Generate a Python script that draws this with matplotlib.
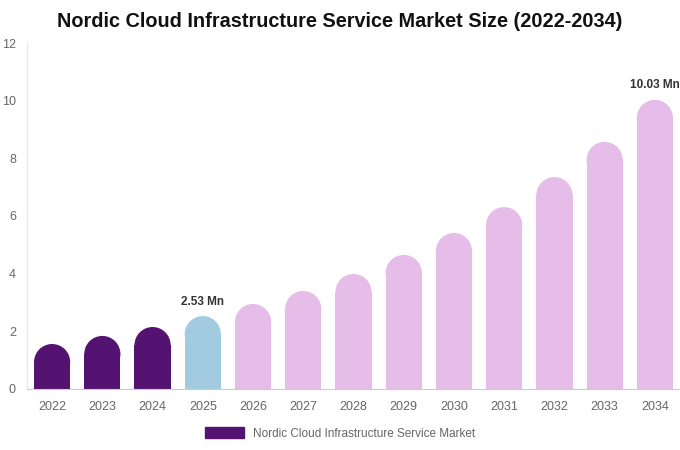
import matplotlib.pyplot as plt
from matplotlib.patches import Ellipse, Patch

years = ["2022", "2023", "2024", "2025", "2026", "2027", "2028",
         "2029", "2030", "2031", "2032", "2033", "2034"]
values = [1.56, 1.84, 2.15, 2.53, 2.95, 3.40, 3.99, 4.65, 5.41, 6.31, 7.35, 8.57, 10.03]
labels = {3: "2.53 Mn", 12: "10.03 Mn"}

DARK = "#541271"
BLUE = "#a3cbe0"
PINK = "#e6bce9"
colors = [DARK] * 3 + [BLUE] + [PINK] * 9

plt.rcParams["font.family"] = ["Liberation Sans", "DejaVu Sans"]

fig = plt.figure(figsize=(6.8, 4.5), dpi=100)
ax = fig.add_axes([0.0397, 0.1356, 0.9603, 0.7688])
ax.set_xlim(-0.5, 12.5)
ax.set_ylim(0, 12)

width = 0.72
# radius of rounded top in data units (y), given the axes pixel size
ax_h_px = 0.7688 * 450
ry = (width / 2) * 50.25 / (ax_h_px / 12)

for i, (v, c) in enumerate(zip(values, colors)):
    ax.bar(i, v - ry, width=width, color=c, linewidth=0)
    ax.add_patch(Ellipse((i, v - ry), width, 2 * ry, color=c, linewidth=0))
    if i in labels:
        ax.text(i, v + 0.5, labels[i], ha="center", va="center",
                fontsize=8.5, fontweight="bold", color="#333333")

ax.set_xticks(range(len(years)))
ax.set_xticklabels(years)
ax.set_yticks(range(0, 13, 2))
ax.tick_params(axis="both", length=0, labelsize=9, colors="#666666")
ax.tick_params(axis="x", pad=9)
ax.tick_params(axis="y", pad=8)
for s in ["top", "right"]:
    ax.spines[s].set_visible(False)
ax.spines["left"].set_color("#e6e6e6")
ax.spines["bottom"].set_color("#cccccc")

fig.text(0.5, 0.953, "Nordic Cloud Infrastructure Service Market Size (2022-2034)",
         ha="center", va="center", fontsize=14.3, fontweight="bold", color="#111111")

fig.legend(handles=[Patch(color=DARK, label="Nordic Cloud Infrastructure Service Market")],
           loc="center", bbox_to_anchor=(0.5, 0.037), frameon=False,
           fontsize=8.5, labelcolor="#666666", handlelength=3.3, handleheight=1.0)

fig.savefig("out.png", dpi=100)
